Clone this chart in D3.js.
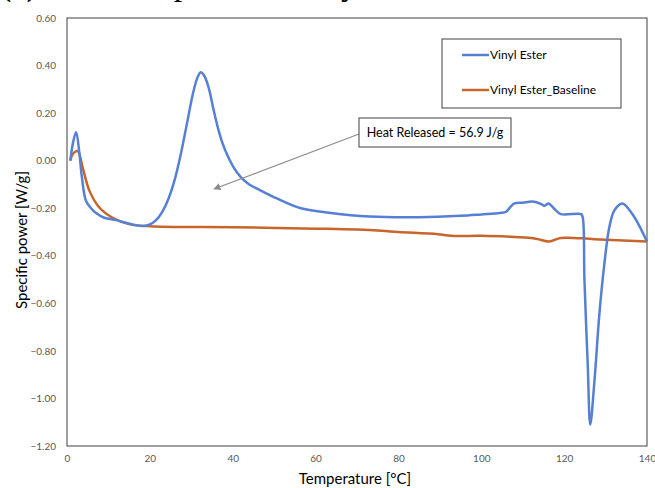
<!DOCTYPE html>
<html>
<head>
<meta charset="utf-8">
<script src="https://cdn.jsdelivr.net/npm/d3@7"></script>
<style>
  html, body { margin: 0; padding: 0; background: #fff; overflow: hidden; }
  svg { display: block; }
</style>
</head>
<body>
<div id="chart"></div>
<script>
// series
const tempVE = [0.8, 1.5, 2.2, 3.0, 3.6, 4.6, 5.8, 7, 9, 11.8, 14, 16.7, 18.5, 20, 21.5, 23, 24.5, 26, 27.5, 29, 30.5, 31.5, 32.3, 33.2, 34.3, 35.3, 36.4, 37.5, 38.8, 40.3, 42, 44, 46.8, 50.8, 56.5, 63.7, 73, 85, 95, 100, 104.5, 106, 107, 108, 110, 112.4, 114.5, 115.2, 116.2, 117.5, 119.2, 124.1, 124.5, 124.9, 125.7, 126.3, 127.3, 128.5, 129.7, 130.9, 132.1, 134, 136.5, 140];
const powerVE = [0.0, 0.08, 0.12, 0.03, -0.07, -0.17, -0.2, -0.22, -0.24, -0.25, -0.26, -0.272, -0.275, -0.268, -0.25, -0.215, -0.16, -0.08, 0.03, 0.16, 0.29, 0.35, 0.372, 0.355, 0.3, 0.22, 0.14, 0.075, 0.02, -0.03, -0.07, -0.1, -0.126, -0.16, -0.2, -0.22, -0.235, -0.238, -0.232, -0.226, -0.22, -0.215, -0.195, -0.18, -0.177, -0.172, -0.183, -0.19, -0.18, -0.2, -0.225, -0.225, -0.24, -0.5, -0.86, -1.11, -0.93, -0.645, -0.435, -0.28, -0.21, -0.18, -0.225, -0.34];

const tempBase = [0.8, 1.5, 2.6, 3.8, 5.4, 7.8, 11, 15, 21.5, 40, 60, 70, 76, 80, 89.5, 92.7, 100, 107, 112, 113.6, 116.4, 119.2, 127.3, 140];
const powerBase = [0.0, 0.03, 0.04, -0.03, -0.126, -0.197, -0.24, -0.267, -0.277, -0.28, -0.286, -0.29, -0.295, -0.3, -0.309, -0.316, -0.316, -0.32, -0.325, -0.33, -0.34, -0.325, -0.33, -0.34];

const seriesNames = ["Vinyl Ester", "Vinyl Ester_Baseline"];
const xTicks = [0, 20, 40, 60, 80, 100, 120, 140];
const yTicks = [0.6, 0.4, 0.2, 0.0, -0.2, -0.4, -0.6, -0.8, -1.0, -1.2];
const titleText = "(c) DSC ramp test on vinyl ester";
const noteText = "Heat Released = 56.9 J/g";

const width = 655, height = 488;
const colors = ["#5680d4", "#c8652a"];
const font = "Lato, 'Open Sans', sans-serif";

const svg = d3.select("#chart").append("svg")
    .attr("width", width)
    .attr("height", height);

const x = d3.scaleLinear().domain([0, 140]).range([67, 647]);
const y = d3.scaleLinear().domain([-1.2, 0.6]).range([446, 18]);

// title, mostly cropped off at the top
svg.append("text")
    .attr("x", 0)
    .attr("y", -5)
    .attr("font-family", "'Liberation Serif', 'Times New Roman', serif")
    .attr("font-size", 34)
    .attr("fill", "#000")
    .text(titleText);

// axes (labels only, Excel style)
const xAxis = svg.append("g")
    .attr("transform", `translate(0, 446)`)
    .call(d3.axisBottom(x).tickValues(xTicks).tickSize(0).tickPadding(9).tickFormat(d3.format("d")));
const yAxis = svg.append("g")
    .attr("transform", `translate(67, 0)`)
    .call(d3.axisLeft(y).tickValues(yTicks).tickSize(0).tickPadding(11).tickFormat(d3.format(".2f")));
[xAxis, yAxis].forEach(a => {
    a.select(".domain").remove();
    a.selectAll("text")
        .attr("font-family", font)
        .attr("font-size", 10)
        .attr("fill", "#595959");
});

// plot frame
svg.append("rect")
    .attr("x", x(0))
    .attr("y", y(0.6))
    .attr("width", x(140) - x(0))
    .attr("height", y(-1.2) - y(0.6))
    .attr("fill", "none")
    .attr("stroke", "#404040")
    .attr("stroke-width", 1);

const line = d3.line()
    .x(d => x(d[0]))
    .y(d => y(d[1]))
    .curve(d3.curveCatmullRom.alpha(0.5));

const dataVE = tempVE.map((t, i) => [t, powerVE[i]]);
const dataBase = tempBase.map((t, i) => [t, powerBase[i]]);

svg.append("path")
    .datum(dataBase)
    .attr("d", line)
    .attr("fill", "none")
    .attr("stroke", colors[1])
    .attr("stroke-width", 2.5);

svg.append("path")
    .datum(dataVE)
    .attr("d", line)
    .attr("fill", "none")
    .attr("stroke", colors[0])
    .attr("stroke-width", 2.5);

// axis titles
svg.append("text")
    .attr("x", 355)
    .attr("y", 484)
    .attr("text-anchor", "middle")
    .attr("font-family", font)
    .attr("font-size", 15)
    .attr("fill", "#000")
    .text("Temperature [°C]");

svg.append("text")
    .attr("transform", "translate(27, 240) rotate(-90)")
    .attr("text-anchor", "middle")
    .attr("font-family", font)
    .attr("font-size", 15)
    .attr("fill", "#000")
    .text("Specific power [W/g]");

// legend
const legend = svg.append("g");
legend.append("rect")
    .attr("x", 442).attr("y", 39)
    .attr("width", 179).attr("height", 69)
    .attr("fill", "#fff")
    .attr("stroke", "#404040");
seriesNames.forEach((name, i) => {
    const ly = 55 + i * 35;
    legend.append("line")
        .attr("x1", 462).attr("x2", 489)
        .attr("y1", ly).attr("y2", ly)
        .attr("stroke", colors[i])
        .attr("stroke-width", 2.5);
    legend.append("text")
        .attr("x", 490).attr("y", ly + 4)
        .attr("font-family", font)
        .attr("font-size", 12)
        .attr("fill", "#000")
        .text(name);
});

// annotation with arrow
svg.append("defs").append("marker")
    .attr("id", "arrow")
    .attr("viewBox", "0 0 10 10")
    .attr("refX", 9).attr("refY", 5)
    .attr("markerWidth", 6).attr("markerHeight", 6)
    .attr("orient", "auto")
    .append("path")
    .attr("d", "M0,0 L10,5 L0,10 z")
    .attr("fill", "#8c8c8c");

svg.append("line")
    .attr("x1", 359).attr("y1", 134)
    .attr("x2", 214).attr("y2", 189)
    .attr("stroke", "#8c8c8c")
    .attr("stroke-width", 1.2)
    .attr("marker-end", "url(#arrow)");

svg.append("rect")
    .attr("x", 359).attr("y", 118)
    .attr("width", 152).attr("height", 29)
    .attr("fill", "#fff")
    .attr("stroke", "#404040");
svg.append("text")
    .attr("x", 435).attr("y", 137)
    .attr("text-anchor", "middle")
    .attr("font-family", font)
    .attr("font-size", 12.5)
    .attr("fill", "#000")
    .text(noteText);
</script>
</body>
</html>
